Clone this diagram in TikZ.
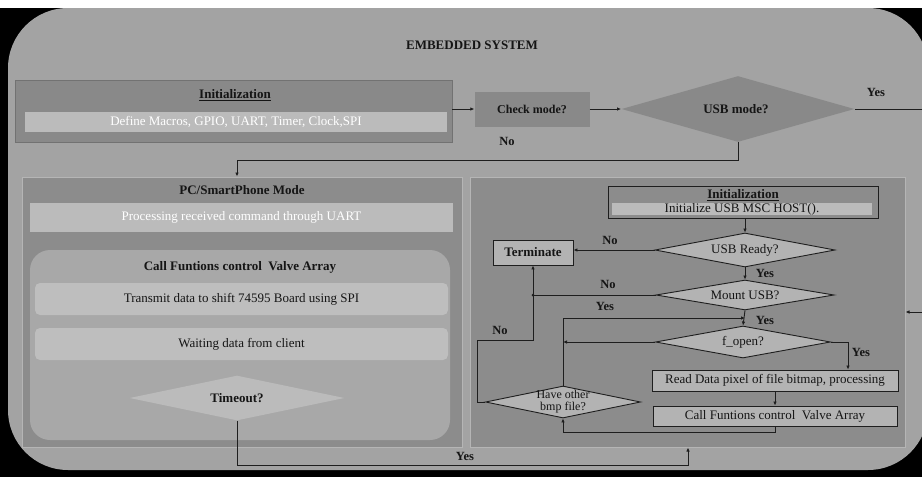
\documentclass[tikz,border=0pt]{standalone}
\usepackage{fontspec}
\setmainfont{Liberation Serif}
\usetikzlibrary{shapes.geometric,arrows.meta}
\definecolor{bgray}{HTML}{A3A3A3}
\definecolor{pdark}{HTML}{8C8C8C}
\definecolor{plight}{HTML}{B3B3B3}
\definecolor{bdark}{HTML}{898989}
\definecolor{ink}{HTML}{151515}
\definecolor{lineink}{HTML}{1E1E1E}
\tikzset{
  base/.style={font=\fontsize{13}{14}\selectfont, text=ink, inner sep=1pt},
  bold/.style={base, font=\fontsize{13}{14}\selectfont\bfseries},
  panel/.style={fill=pdark, draw=bgray!80!white, line width=1pt},
  strip/.style={fill=plight!90!white, draw=none, minimum height=#1},
  boxed/.style={fill=plight, draw=lineink, line width=0.9pt, inner sep=1pt},
  decide/.style={diamond, aspect=5, inner sep=0pt, fill=plight, draw=lineink, line width=0.9pt},
  conn/.style={draw=lineink, line width=0.9pt},
  arr/.style={conn, -{Latex[length=4pt,width=3.5pt]}},
  lbl/.style={base, font=\fontsize{12.5}{13}\selectfont\bfseries},
}
\begin{document}
\begin{tikzpicture}[x=1pt,y=-1pt]
\useasboundingbox (0,0) rectangle (922,477);
\clip (0,0) rectangle (922,477);
% background
\fill[white] (0,0) rectangle (922,8);
\fill[black] (0,8) rectangle (922,477);
\fill[bgray, rounded corners=60pt] (8,8) rectangle (928,470);
\node[bold] (title) at (472,45) {EMBEDDED SYSTEM};

% top initialization
\node[fill=bdark, draw=bgray!70!black, minimum width=437pt, minimum height=62pt, inner sep=0pt] (initTop) at (233.5,111) {};
\node[bold] (initTopT) at (235,95) {\underline{Initialization}};
\node[base, strip=20pt, minimum width=422pt, text=white] (initTopS) at (236,122) {Define Macros, GPIO, UART, Timer, Clock,SPI};

\node[bold, font=\fontsize{12}{13}\selectfont\bfseries, fill=bdark, minimum width=115pt, minimum height=35pt] (check) at (532,109) {Check mode?};
\node[decide, fill=bdark, draw=none, minimum width=233pt, minimum height=66pt] (usbmode) at (738,109) {};
\node[bold] (usbmodeT) at (736,109) {USB mode?};
\coordinate (yesOut) at (922,109);
\coordinate (yesIn) at (922,312);
\coordinate (pcTop) at (237,160);

% left panel
\node[panel, minimum width=440pt, minimum height=270pt, inner sep=0pt] (pcpanel) at (242,312) {};
\node[bold] (pcT) at (242,190) {PC/SmartPhone Mode};
\node[base, strip=29pt, minimum width=423pt, text=white] (uart) at (241.5,217.5) {Processing received command through UART};
\node[fill=bgray!95!white, rounded corners=20pt, minimum width=420pt, minimum height=190pt, inner sep=0pt] (callbox) at (240,345) {};
\node[bold] (callT) at (240,267) {Call Funtions control\ \ Valve Array};
\node[base, fill=plight!85!white, rounded corners=5pt, minimum width=413pt, minimum height=32pt] (transmit) at (241.5,299) {Transmit data to shift 74595 Board using SPI};
\node[base, fill=plight!85!white, rounded corners=5pt, minimum width=413pt, minimum height=32pt] (waiting) at (241.5,344) {Waiting data from client};
\node[decide, fill=plight!90!white, draw=none, minimum width=215pt, minimum height=45pt] (timeout) at (237,398) {};
\node[bold] (timeoutT) at (237,398) {Timeout?};

% right panel
\node[panel, minimum width=435pt, minimum height=270pt, inner sep=0pt] (usbpanel) at (687.5,312) {};
\node[fill=pdark, draw=lineink, line width=0.9pt, minimum width=270pt, minimum height=32pt, inner sep=0pt] (init2) at (743,202) {};
\node[bold] (init2T) at (743,195) {\underline{Initialization}};
\node[base, strip=12pt, minimum width=260pt, inner sep=0pt] (init2S) at (742,209) {Initialize USB MSC HOST().};
\node[decide, minimum width=180pt, minimum height=34pt] (usbready) at (745,250) {};
\node[base] (usbreadyT) at (745,250) {USB Ready?};
\node[boxed, font=\fontsize{13}{14}\selectfont\bfseries, text=ink, minimum width=80pt, minimum height=25pt] (terminate) at (533,252.5) {Terminate};
\node[decide, minimum width=178pt, minimum height=30pt] (mount) at (745,295) {};
\node[base] (mountT) at (745,295) {Mount USB?};
\node[decide, minimum width=175pt, minimum height=32pt] (fopen) at (743,342) {};
\node[base] (fopenT) at (743,342) {f\_open?};
\node[boxed, base, minimum width=246pt, minimum height=21pt] (readdata) at (775,380.5) {Read Data pixel of file bitmap, processing};
\node[boxed, base, minimum width=244pt, minimum height=20pt] (callfn) at (775,416) {Call Funtions control\ \ Valve Array};
\node[decide, minimum width=155pt, minimum height=32pt] (haveother) at (563,402) {};
\node[base, align=center, font=\fontsize{12}{12}\selectfont] (haveotherT) at (563,402) {Have other\\bmp file?};

% connectors, top
\draw[arr] (check.west -| initTop.east) -- (check.west);
\draw[arr] (check.east) -- (usbmode.west);
\draw[conn] (usbmode.east) -- (yesOut);
\node[lbl] (yes1) at (876,92) {Yes};
\node[lbl] (no1) at (507,141) {No};
\draw[arr] (usbmode.south) |- (pcTop) -- (pcpanel.north -| pcTop);
\draw[arr] (yesIn) -- (yesIn -| usbpanel.east);
% bottom yes
\coordinate (bl) at (237,465);
\coordinate (br) at (688,465);
\draw[arr] (timeout.south) -- (bl) -- (br) -- (usbpanel.south -| br);
\node[lbl] (yes2) at (465,456) {Yes};

% right panel connectors
\draw[arr] (init2.south -| usbready.north) -- (usbready.north);
\draw[arr] (usbready.west) -- (usbready.west -| terminate.east);
\node[lbl] (no2) at (610,240) {No};
\draw[arr] (usbready.south) -- (mount.north);
\node[lbl] (yes3) at (765,273) {Yes};
\coordinate (j1) at (533,295);
\coordinate (j2) at (533,340);
\draw[conn] (mount.west) -- (j1);
\fill[lineink] (j1) circle (1.5pt);
\node[lbl] (no3) at (608,284) {No};
\draw[arr] (mount.south) -- (fopen.north);
\node[lbl] (yes4) at (765,320) {Yes};
\coordinate (h1) at (563,318);
\coordinate (h2) at (745,318);
\draw[arr] (haveother.north) -- (h1) -- (h2);
\node[lbl] (yes5) at (605,306) {Yes};
\coordinate (f1) at (563,342);
\draw[arr] (fopen.west) -- (f1);
\coordinate (f2) at (848,342);
\draw[arr] (fopen.east) -- (f2) -- (readdata.north -| f2);
\node[lbl] (yes6) at (861,352) {Yes};
\draw[arr] (readdata.south) -- (callfn.north);
\coordinate (c1) at (775,432);
\coordinate (c2) at (563,432);
\draw[arr] (callfn.south) -- (c1) -- (c2) -- (haveother.south);
\coordinate (n1) at (477,402);
\coordinate (n2) at (477,340);
\draw[arr] (haveother.west) -- (n1) -- (n2) -- (j2) -- (terminate.south);
\node[lbl] (no4) at (500,330) {No};
\end{tikzpicture}
\end{document}
